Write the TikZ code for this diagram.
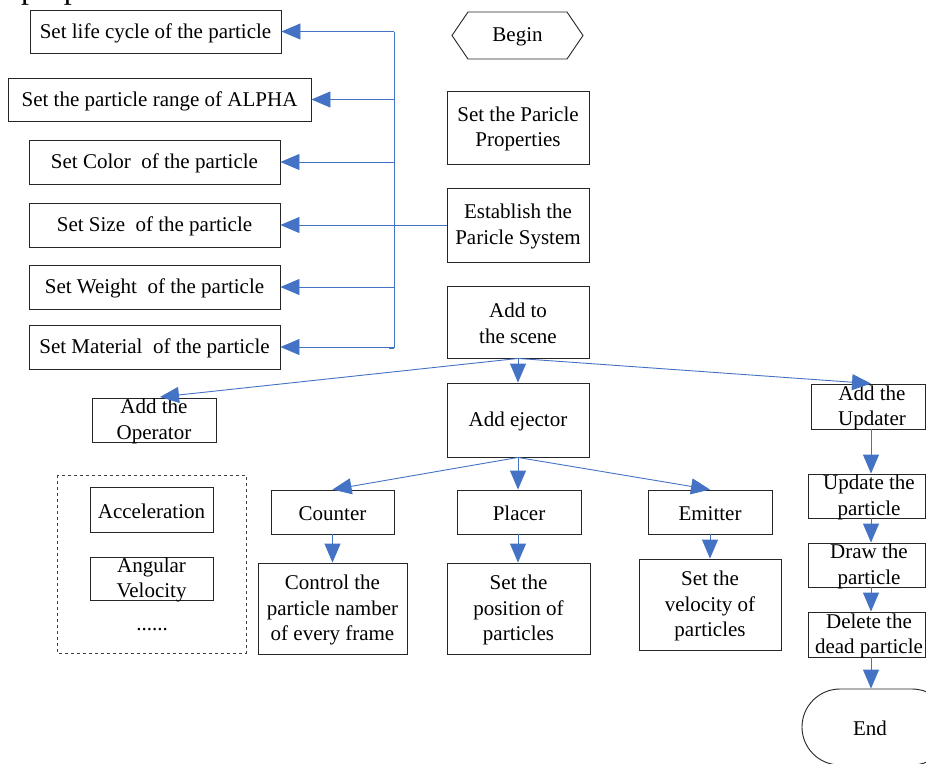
\documentclass[tikz,border=0pt]{standalone}
\usepackage{fontspec}
\setmainfont{Liberation Serif}
\usetikzlibrary{arrows.meta}
\definecolor{ablue}{HTML}{4472C4}
\newcommand\fs{\fontsize{21}{25.5}\selectfont}
\tikzset{
  box/.style={draw=black!85, line width=0.9pt, inner sep=0pt, minimum width=#1},
  txt/.style={font=\fs, align=center, inner sep=0pt, text=black, yshift=-1.5pt},
  arr/.style={draw=ablue, line width=0.9pt, -{Triangle[length=19pt,width=16pt]}},
  ln/.style={draw=ablue, line width=0.9pt},
}
\begin{document}
\begin{tikzpicture}[x=1pt,y=-1pt]
\useasboundingbox (0,0) rectangle (926,763);
\fill[white] (0,0) rectangle (926,763);
% clipped text at top
\node[anchor=base west, inner sep=0pt, font=\fontsize{32}{38}\selectfont] (cut) at (21,-2) {prop};
% left column
\node[box=251pt, minimum height=43pt] (life) at (155.5,31.5) {};
\node[txt] at (life) {Set life cycle of the particle};
\node[box=303pt, minimum height=43pt] (alpha) at (159.5,99.5) {};
\node[txt] at (alpha) {Set the particle range of ALPHA};
\node[box=251pt, minimum height=44pt] (color) at (154.5,162) {};
\node[txt] at (color) {Set Color\ \ of the particle};
\node[box=251pt, minimum height=44pt] (size) at (154.5,225) {};
\node[txt] at (size) {Set Size\ \ of the particle};
\node[box=251pt, minimum height=44pt] (weight) at (154.5,287) {};
\node[txt] at (weight) {Set Weight\ \ of the particle};
\node[box=251pt, minimum height=44pt] (material) at (154.5,347) {};
\node[txt] at (material) {Set Material\ \ of the particle};
% trunk
\coordinate (tTop) at (394,31.5);
\coordinate (tBot) at (394,348);
\draw[ln] (tTop) -- (tBot);
\draw[ln] (tBot) ++(-5,0) -- ++(5,0);
\foreach \n in {life,alpha,color,size,weight,material}
  \draw[arr] (\n.east -| tTop) -- (\n.east);
% middle column
\draw[draw=black!85, line width=0.9pt] (452,35.5) -- (468,12) -- (567,12) -- (583,35.5) -- (567,59) -- (468,59) -- cycle;
\node[txt] (begin) at (517.5,35.5) {Begin};
\node[box=142pt, minimum height=73pt] (props) at (518,127.5) {};
\node[txt] at (props) {Set the Paricle\\Properties};
\node[box=142pt, minimum height=74pt] (estab) at (518,225) {};
\node[txt] at (estab) {Establish the\\Paricle System};
\node[box=142pt, minimum height=72pt] (scene) at (518,322) {};
\node[txt] at (scene) {Add to\\the scene};
\draw[ln] (estab.west) -- (estab.west -| tTop);
% level 2
\node[box=124pt, minimum height=44pt] (oper) at (154,420) {};
\node[txt] at (oper) {Add the\\Operator};
\node[box=142pt, minimum height=74pt] (eject) at (518,420) {};
\node[txt] at (eject) {Add ejector};
\node[box=114pt, minimum height=45pt] (updater) at (868,406.5) {};
\node[txt] at (872,406.5) {Add the\\Updater};
\coordinate (col) at (871,0);
\draw[arr] (scene.south) -- (160,397);
\draw[arr] (scene.south) -- (eject.north);
\draw[arr] (scene.south) -- (updater.north -| col);
% operator group
\draw[draw=black!75, line width=0.9pt, dashed] (57,475) rectangle (246,653);
\node[box=123pt, minimum height=45pt] (accel) at (151.5,509.5) {};
\node[txt] at (accel) {Acceleration};
\node[box=123pt, minimum height=43pt] (angular) at (151.5,578.5) {};
\node[txt] at (angular) {Angular\\Velocity};
\node[txt] (dots) at (152,628) {......};
% ejector children
\node[box=123pt, minimum height=44pt] (counter) at (332.5,512) {};
\node[txt] at (counter) {Counter};
\node[box=124pt, minimum height=44pt] (placer) at (519,512) {};
\node[txt] at (placer) {Placer};
\node[box=124pt, minimum height=44pt] (emitter) at (710,512) {};
\node[txt] at (emitter) {Emitter};
\draw[arr] (eject.south) -- (counter.north);
\draw[arr] (eject.south) -- (eject.south |- placer.north);
\draw[arr] (eject.south) -- (emitter.north);
\node[box=149pt, minimum height=91pt] (control) at (332.5,608.5) {};
\node[txt] at (control) {Control the\\particle namber\\of every frame};
\node[box=143pt, minimum height=91pt] (position) at (518.5,608.5) {};
\node[txt] at (position) {Set the\\position of\\particles};
\node[box=142pt, minimum height=91pt] (velocity) at (710,604.5) {};
\node[txt] at (velocity) {Set the\\velocity of\\particles};
\draw[arr] (counter.south) -- (control.north -| counter.south);
\draw[arr] (placer.south -| eject.south) -- (position.north -| eject.south);
\draw[arr] (emitter.south) -- (velocity.north -| emitter.south);
% right column
\node[box=117pt, minimum height=44pt] (update) at (866.5,496) {};
\node[txt] at (869,496) {Update the\\particle};
\node[box=117pt, minimum height=44pt] (drawp) at (866.5,565) {};
\node[txt] at (869,565) {Draw the\\particle};
\node[box=117pt, minimum height=45pt] (delete) at (866.5,634.5) {};
\node[txt] at (869,634.5) {Delete the\\dead particle};
\node[draw=black!85, line width=0.9pt, rounded corners=38pt, minimum width=148pt, minimum height=76pt, inner sep=0pt] (endbox) at (876,727) {};
\node[txt] (endt) at (870,727) {End};
\draw[arr] (updater.south -| col) -- (update.north -| col);
\draw[arr] (update.south -| col) -- (drawp.north -| col);
\draw[arr] (drawp.south -| col) -- (delete.north -| col);
\draw[arr] (delete.south -| col) -- (endbox.north -| col);
\end{tikzpicture}
\end{document}
